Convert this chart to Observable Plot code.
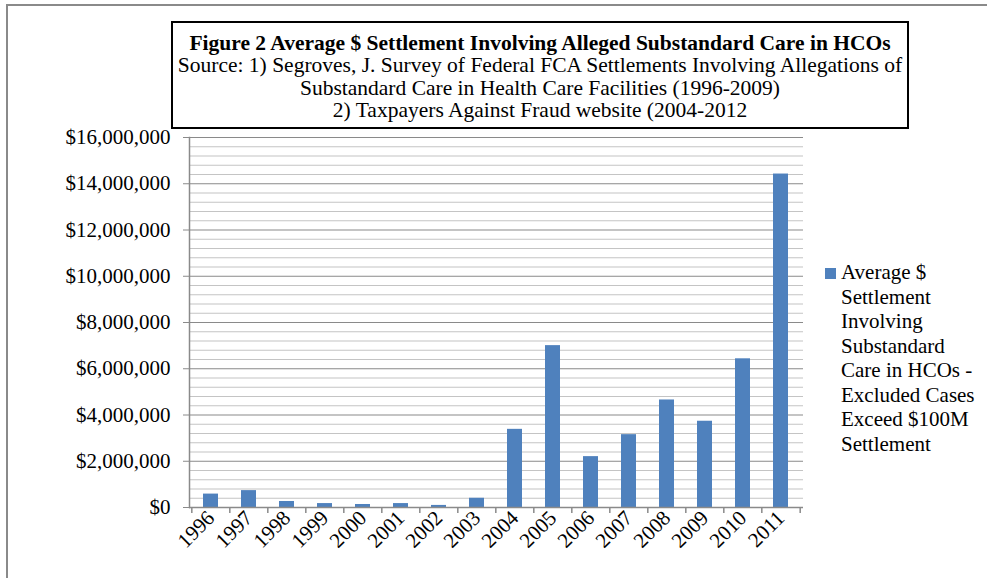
<!DOCTYPE html>
<html><head><meta charset="utf-8">
<script src="https://cdn.jsdelivr.net/npm/d3@7"></script>
<script src="https://cdn.jsdelivr.net/npm/@observablehq/plot@0.6"></script>
<style>
html,body{margin:0;padding:0;background:#fff;overflow:hidden;}
#wrap{position:relative;width:987px;height:578px;overflow:hidden;font-family:"Liberation Serif","Times New Roman",serif;color:#000;}
#frame{position:absolute;left:6px;top:4px;width:1100px;height:700px;border:2px solid #8a8a8a;}
#chart{position:absolute;left:0;top:0;}
#title{position:absolute;left:171px;top:21px;width:738px;height:108px;border:2px solid #000;background:#fff;text-align:center;font-size:21.5px;line-height:22.4px;box-sizing:border-box;padding-top:9px;white-space:nowrap;}
#title b{font-weight:bold;}
#legend{position:absolute;left:825px;top:260px;font-size:21px;line-height:24.5px;}
#legend .sw{position:absolute;left:0;top:8px;width:11px;height:11px;background:#4f81bd;}
#legend .tx{margin-left:16px;}
</style>
</head><body>
<div id="wrap">
  <div id="frame"></div>
  <div id="chart"></div>
  <div id="title"></div>
  <div id="legend"></div>
</div>
<script>
// ---- data ----
const years = ["1996","1997","1998","1999","2000","2001","2002","2003","2004","2005","2006","2007","2008","2009","2010","2011"];
const values = [580000, 730000, 260000, 170000, 130000, 170000, 90000, 400000, 3380000, 7000000, 2200000, 3150000, 4650000, 3730000, 6430000, 14420000];
const yTicks = [0, 2000000, 4000000, 6000000, 8000000, 10000000, 12000000, 14000000, 16000000];
const minorStep = 400000;
const titleLines = ["Figure 2 Average $ Settlement Involving Alleged Substandard Care in HCOs"];
const sourceLines = [
  "Source: 1) Segroves, J. Survey of Federal FCA Settlements Involving Allegations of",
  "Substandard Care in Health Care Facilities (1996-2009)",
  "2) Taxpayers Against Fraud website (2004-2012"
];
const legendLines = ["Average $","Settlement","Involving","Substandard","Care in HCOs -","Excluded Cases","Exceed $100M","Settlement"];

// ---- layout ----
const W = 987, H = 578, ML = 189, MR = 184, MT = 137, MB = 71;
const step = (W - ML - MR) / years.length;
const data = years.map((y, i) => ({year: y, value: values[i]}));
const minorTicks = d3.range(0, yTicks[yTicks.length - 1] + 1, minorStep).filter(v => !yTicks.includes(v));

const chart = Plot.plot({
  width: W, height: H,
  marginLeft: ML, marginRight: MR, marginTop: MT, marginBottom: MB,
  style: {fontFamily: "'Liberation Serif','Times New Roman',serif", fontSize: "21px", color: "#000", background: "transparent"},
  x: {type: "band", domain: years, paddingInner: 0.6, paddingOuter: 0.3, label: null},
  y: {domain: [0, 16000000], label: null},
  marks: [
    Plot.ruleY(minorTicks, {stroke: "#c4c4c4", strokeWidth: 1.2}),
    Plot.ruleY(yTicks, {stroke: "#8a8a8a", strokeWidth: 1.2}),
    Plot.barY(data, {x: "year", y: "value", fill: "#4f81bd"}),
    Plot.frame({anchor: "left", stroke: "#8a8a8a", strokeWidth: 1.5}),
    Plot.ruleY([0], {stroke: "#8a8a8a", strokeWidth: 1.5}),
    Plot.ruleX(years, {x: d => d, y1: 0, y2: 0, insetBottom: -6, dx: -step / 2, stroke: "#8a8a8a", strokeWidth: 1.5}),
    Plot.ruleX([years[years.length - 1]], {x: d => d, y1: 0, y2: 0, insetBottom: -6, dx: step / 2, stroke: "#8a8a8a", strokeWidth: 1.5}),
    Plot.axisY({ticks: yTicks, tickFormat: d3.format("$,"), tickSize: 6, tickPadding: 13, stroke: "#8a8a8a", fill: "#000", label: null, fontSize: 21}),
    Plot.axisX({tickSize: 0, tickRotate: -45, tickPadding: 7, label: null, fontSize: 21, fill: "#000"})
  ]
});
document.getElementById("chart").appendChild(chart);

// title box
const t = document.getElementById("title");
t.innerHTML = titleLines.map(s => "<b>" + s + "</b>").join("<br>") + "<br>" + sourceLines.join("<br>");

// legend
const lg = document.getElementById("legend");
lg.innerHTML = '<div class="sw"></div><div class="tx">' + legendLines.join("<br>") + '</div>';
</script>
</body></html>
